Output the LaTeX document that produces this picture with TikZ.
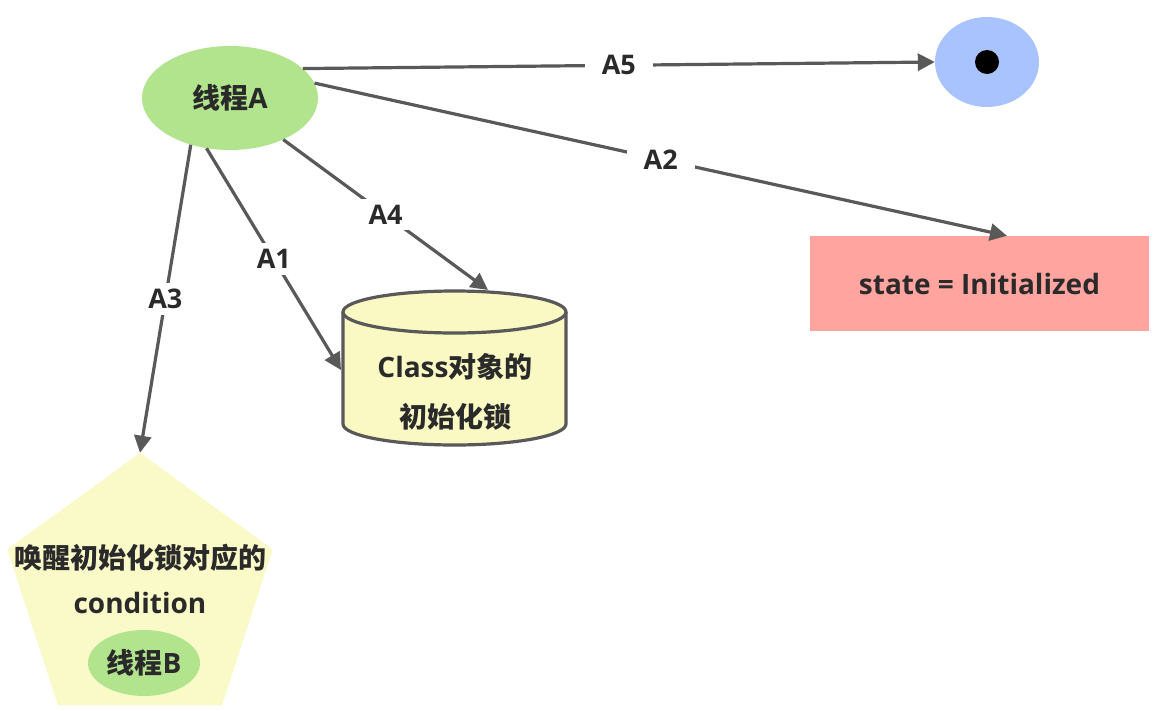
\documentclass[tikz,border=0pt]{standalone}
\usepackage{fontspec}
\setmainfont{Open Sans}
\newfontfamily\cjk{Noto Sans CJK SC}
\usetikzlibrary{shapes.geometric,arrows.meta}
\definecolor{greenc}{HTML}{B2E48E}
\definecolor{bluec}{HTML}{A8C3FD}
\definecolor{redc}{HTML}{FFA49E}
\definecolor{yelc}{HTML}{FAF8C3}
\definecolor{yelp}{HTML}{FAFAC8}
\definecolor{linec}{HTML}{595959}
\definecolor{txtc}{HTML}{2A2A2A}
\begin{document}
\begin{tikzpicture}[x=1pt,y=-1pt,
  txt/.style={font=\fontsize{28}{32}\selectfont\bfseries, text=txtc},
  arr/.style={draw=linec, line width=3.2pt, -{Triangle[length=17pt,width=17pt]}},
  lbl/.style={fill=white, font=\fontsize{27}{30}\selectfont\bfseries, text=txtc, inner xsep=17pt, inner ysep=6pt},
  cylbody/.style={draw=linec, line width=3.2pt}
]
\useasboundingbox (0,0) rectangle (1154,710);
\fill[white] (0,0) rectangle (1154,710);

% thread A
\node[ellipse, fill=greenc, minimum width=176pt, minimum height=104pt, inner sep=0pt, txt] (A) at (230,98) {{\cjk 线程}A};
% final state
\node[ellipse, fill=bluec, minimum width=104pt, minimum height=90pt, inner sep=0pt] (E) at (987,62) {};
\fill[black] (E.center) circle (12pt);
% state box
\node[rectangle, fill=redc, minimum width=339pt, minimum height=95pt, inner sep=0pt, txt] (S) at (979.5,283.5) {state = Initialized};

% cylinder
\fill[yelc] (343,312) -- (343,424) arc[start angle=180, end angle=360, x radius=111.5pt, y radius=21pt] -- (566,312) -- cycle;
\draw[cylbody] (343,312) -- (343,424) arc[start angle=180, end angle=360, x radius=111.5pt, y radius=21pt] -- (566,312);
\filldraw[cylbody, fill=yelc] (454.5,312) ellipse [x radius=111.5pt, y radius=21pt];
\node[txt, font=\fontsize{28}{50}\selectfont\bfseries, align=center] (C) at (455,392) {Class{\cjk 对象的}\\{\cjk 初始化锁}};
\coordinate (c4) at (488,290);
\coordinate (c1) at (341,370);

% pentagon
\node[regular polygon, regular polygon sides=5, minimum size=279pt, inner sep=0pt, fill=yelp] (P) at (140,592.5) {};
\node[txt] (W) at (140,558) {\cjk 唤醒初始化锁对应的};
\node[txt] (Cd) at (140,603) {condition};
\node[ellipse, fill=greenc, minimum width=112pt, minimum height=66pt, inner sep=0pt, txt] (B) at (144,663) {{\cjk 线程}B};

% arrows
\draw[arr] (A.22) -- node[lbl]{A5} (E.west);
\draw[arr] (A.10) -- node[lbl]{A2} ([xshift=27.5pt]S.north);
\draw[arr] (A.-38) -- node[lbl]{A4} (c4);
\draw[arr] (A.245) -- node[lbl]{A1} (c1);
\draw[arr] (A.230) -- node[lbl]{A3} (P.corner 1);
\end{tikzpicture}
\end{document}
